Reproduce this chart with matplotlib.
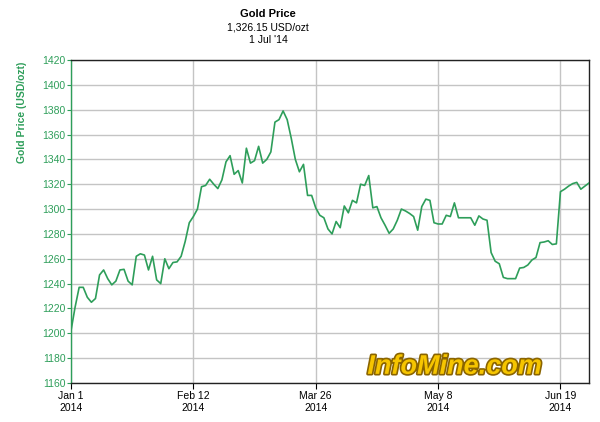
import matplotlib
matplotlib.use("Agg")
import matplotlib.pyplot as plt
import matplotlib.patheffects as pe
import numpy as np

plt.rcParams['font.family'] = ['Liberation Sans', 'DejaVu Sans']

# gold price, one value per trading day (Jan 1 .. Jun 30 2014)
prices = [
    1202, 1221, 1237, 1237, 1229, 1225, 1228, 1247, 1251, 1244,
    1239, 1242, 1251, 1251.5, 1242, 1239, 1262, 1264, 1263, 1251,
    1262, 1243, 1240, 1260, 1252, 1257, 1257.5, 1262, 1274, 1289,
    1294, 1300, 1318, 1319, 1324, 1320, 1316.5, 1323.5, 1338, 1343,
    1328, 1331, 1321, 1349, 1337, 1339, 1350.5, 1337, 1340, 1346,
    1370, 1372, 1379, 1372, 1357, 1340, 1330, 1336, 1311, 1311,
    1301, 1295, 1293, 1284, 1280, 1290, 1285, 1302.5, 1297, 1307,
    1305, 1320, 1319, 1327, 1301, 1302, 1293, 1287, 1280.5, 1284,
    1291, 1300, 1298.5, 1296.5, 1294, 1283, 1302, 1308, 1307, 1289,
    1288, 1288, 1295, 1294, 1305, 1293, 1293, 1293, 1293, 1287,
    1294.5, 1292, 1291, 1265, 1258, 1256, 1245, 1244, 1244, 1244,
    1252.5, 1253, 1255, 1259, 1261, 1273, 1273.5, 1274.5, 1271.5, 1272,
    1314, 1316, 1318.5, 1320.5, 1321.5, 1316, 1318.5, 1321,
]
tick_pos = [0, 30, 60, 90, 120]
tick_labels = ['Jan 1\n2014', 'Feb 12\n2014', 'Mar 26\n2014', 'May 8\n2014', 'Jun 19\n2014']
y_ticks = list(range(1160, 1421, 20))

green = '#2e9e5a'

fig = plt.figure(figsize=(6, 4.22), dpi=100)
ax = fig.add_axes([71/600, 1-383/422, 518/600, 323/422])

x = np.arange(len(prices))
ax.plot(x, prices, color=green, lw=1.2, zorder=3)

ax.set_xlim(0, len(prices)-1)
ax.set_ylim(1160, 1420)
ax.set_yticks(y_ticks)
ax.set_xticks(tick_pos)
ax.set_xticklabels(tick_labels)
ax.grid(True, color='#c4c4c4', lw=1.0)
ax.set_axisbelow(True)

ax.tick_params(axis='y', colors=green, labelsize=7.5, length=3, width=0.8, pad=1)
ax.tick_params(axis='x', colors='black', labelsize=7.5, length=4, width=0.8, pad=2)
for s in ['top', 'right', 'bottom']:
    ax.spines[s].set_color('#222222')
    ax.spines[s].set_linewidth(1.0)
ax.spines['left'].set_color(green)
ax.spines['left'].set_linewidth(1.0)

fig.text(22/600, 1-62/422, 'Gold Price (USD/ozt)', rotation=90, color=green,
         fontsize=7.5, fontweight='bold', ha='center', va='top')

fig.text(268/600, 1-14/422, 'Gold Price', fontsize=8, fontweight='bold', ha='center', va='center')
fig.text(268/600, 1-27/422, '1,326.15 USD/ozt', fontsize=7.5, ha='center', va='center')
fig.text(268/600, 1-40/422, "1 Jul '14", fontsize=7.5, ha='center', va='center')

wm = ax.text(0.91, 0.05, 'InfoMine.com', transform=ax.transAxes, ha='right', va='center',
             fontsize=19.5, fontweight='bold', style='italic', color='#f6c500', zorder=4)
wm.set_path_effects([pe.withStroke(linewidth=2.4, foreground='#8a6400')])

fig.savefig('out.png', dpi=100, facecolor='white')
